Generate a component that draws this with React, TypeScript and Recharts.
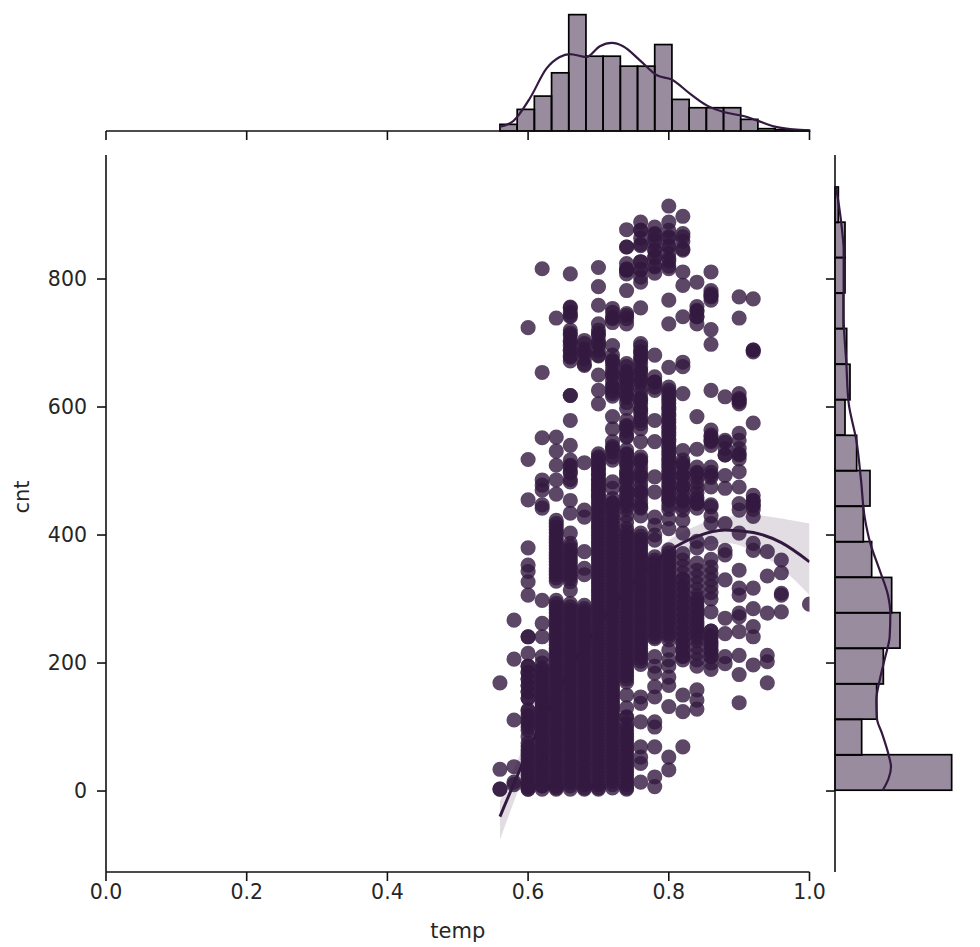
import {
  ComposedChart,
  Bar,
  Line,
  Area,
  Scatter,
  XAxis,
  YAxis,
  ZAxis,
} from "recharts";

const INK = "#331940";
const FONT = "'DejaVu Sans', sans-serif";

const tempTicks = [0, 0.2, 0.4, 0.6, 0.8, 1.0];
const cntTicks = [0, 200, 400, 600, 800];
const cntDomain = [-126.5, 993.75];

const tempColumns = [
  0.56, 0.58, 0.6, 0.62, 0.64, 0.66, 0.68, 0.7, 0.72, 0.74, 0.76, 0.78, 0.8,
  0.82, 0.84, 0.86, 0.88, 0.9, 0.92, 0.94, 0.96, 1.0,
];
const cntColumns = [
  [169, 34, 3, 3],
  [267, 206, 111, 38, 14, 10],
  [724, 518, 455, 380, 353, 343, 327, 306, 241, 241, 215, 195, 185, 175, 165, 155, 145, 127, 118, 108, 100, 70, 60, 50, 40, 30, 20, 10, 3, 3],
  [816, 654, 552, 447, 442, 298, 262, 241, 210, 189, 178, 168, 158, 148, 138, 128, 118, 108, 98, 88, 78, 68, 58, 48, 38, 28, 18, 8, 3],
  [739, 553, 531, 509, 486, 464, 423, 413, 403, 393, 383, 373, 363, 353, 343, 333, 298, 288, 278, 268, 258, 248, 238, 228, 218, 208, 198, 188, 178, 168, 158, 148, 138, 128, 118, 108, 98, 88, 78, 68, 58, 48, 38, 28, 18, 8, 3],
  [808, 755, 743, 715, 702, 689, 678, 618, 618, 579, 540, 509, 499, 483, 454, 434, 403, 387, 377, 367, 357, 347, 337, 327, 314, 293, 283, 273, 263, 253, 243, 233, 223, 213, 203, 193, 183, 173, 163, 153, 143, 133, 123, 113, 103, 93, 83, 73, 63, 53, 43, 33, 23, 13, 3],
  [704, 686, 665, 513, 439, 428, 374, 348, 338, 290, 280, 270, 260, 250, 240, 230, 220, 210, 200, 190, 180, 170, 160, 150, 140, 130, 120, 110, 100, 90, 80, 70, 60, 50, 40, 30, 20, 10, 3],
  [818, 788, 759, 730, 715, 699, 681, 650, 626, 605, 522, 512, 504, 495, 486, 478, 470, 460, 450, 440, 430, 420, 410, 400, 390, 380, 370, 360, 350, 340, 330, 320, 310, 300, 290, 280, 270, 260, 250, 240, 230, 220, 210, 200, 190, 180, 170, 160, 150, 140, 130, 120, 110, 100, 90, 80, 70, 60, 50, 40, 30, 20, 10, 3],
  [754, 738, 696, 671, 652, 631, 621, 585, 566, 535, 517, 483, 473, 457, 450, 445, 435, 425, 415, 405, 395, 385, 375, 365, 355, 345, 335, 325, 315, 305, 295, 285, 275, 265, 255, 245, 235, 225, 215, 205, 195, 185, 175, 165, 155, 145, 135, 125, 115, 105, 95, 85, 75, 65, 55, 45, 35, 25, 15, 5],
  [877, 850, 850, 814, 814, 782, 743, 668, 652, 642, 631, 618, 598, 569, 553, 527, 512, 496, 486, 470, 460, 450, 440, 430, 420, 410, 400, 390, 380, 370, 360, 350, 340, 330, 320, 310, 300, 290, 280, 270, 260, 250, 240, 230, 220, 210, 200, 190, 180, 170, 150, 130, 115, 100, 90, 80, 70, 60, 50, 40, 30, 20, 10, 3],
  [889, 876, 854, 827, 814, 795, 755, 699, 686, 676, 657, 642, 611, 595, 579, 546, 517, 493, 467, 444, 430, 403, 393, 383, 373, 363, 353, 343, 333, 323, 313, 303, 293, 283, 273, 263, 253, 243, 233, 223, 213, 203, 147, 137, 108, 69, 53, 43, 14],
  [871, 861, 845, 835, 819, 681, 639, 579, 546, 491, 467, 428, 415, 400, 392, 366, 356, 346, 336, 326, 316, 306, 296, 286, 276, 266, 256, 246, 238, 210, 195, 184, 163, 147, 108, 100, 69, 22, 7],
  [914, 889, 866, 850, 832, 816, 767, 730, 662, 631, 621, 611, 600, 590, 580, 570, 560, 550, 540, 530, 520, 510, 500, 490, 480, 470, 460, 454, 440, 425, 410, 377, 367, 357, 347, 337, 327, 317, 307, 297, 287, 277, 267, 257, 246, 236, 220, 205, 195, 178, 165, 132, 53, 33],
  [898, 866, 845, 811, 790, 741, 670, 663, 621, 532, 512, 493, 475, 454, 439, 423, 403, 371, 361, 351, 341, 331, 321, 311, 301, 291, 281, 271, 261, 251, 241, 231, 221, 211, 205, 150, 124, 69],
  [795, 751, 741, 730, 585, 534, 496, 454, 449, 390, 380, 356, 345, 335, 325, 315, 305, 295, 285, 275, 265, 255, 245, 235, 225, 215, 205, 195, 158, 142, 128],
  [811, 777, 772, 721, 698, 626, 553, 546, 493, 475, 447, 444, 430, 418, 387, 362, 350, 340, 330, 320, 310, 300, 280, 250, 240, 230, 220, 210, 200, 190],
  [616, 548, 525, 493, 473, 418, 376, 369, 330, 270, 246, 210, 199],
  [772, 739, 611, 608, 559, 548, 525, 499, 475, 449, 439, 403, 345, 317, 306, 278, 272, 249, 212, 182, 138],
  [769, 689, 689, 686, 575, 454, 447, 429, 387, 376, 317, 285, 257, 241, 197],
  [374, 336, 278, 212, 202, 169],
  [361, 341, 309, 306, 280],
  [292],
];
// second reading for the spots where several hours stack up and the dots turn solid
const stackedColumns = [
  [],
  [],
  [195, 185, 175, 165, 155, 145, 125, 115, 105, 95, 85, 75, 65, 55, 45, 35, 25, 15, 7],
  [486, 478, 470, 200, 192, 184, 176, 168, 160, 152, 144, 136, 128, 120, 112, 104, 96, 88, 80, 72, 64, 56, 48, 40, 32, 24, 16, 8],
  [418, 408, 398, 388, 378, 368, 358, 348, 338, 328, 293, 283, 273, 263, 253, 243, 233, 223, 213, 203, 193, 183, 173, 163, 153, 143, 133, 123, 113, 103, 93, 83, 73, 63, 53, 43, 33, 23, 13, 5],
  [756, 748, 741, 720, 712, 704, 696, 688, 680, 672, 517, 507, 497, 487, 382, 372, 362, 352, 342, 332, 288, 278, 268, 258, 248, 238, 228, 218, 208, 198, 188, 178, 168, 158, 148, 138, 128, 118, 108, 98, 88, 78, 68, 58, 48, 38, 28, 18, 8],
  [699, 691, 683, 675, 667, 285, 275, 265, 255, 245, 235, 225, 215, 205, 195, 185, 175, 165, 155, 145, 135, 125, 115, 105, 95, 85, 75, 65, 55, 45, 35, 25, 15, 5],
  [720, 712, 704, 696, 688, 680, 527, 519, 511, 503, 495, 487, 479, 471, 463, 455, 445, 435, 425, 415, 405, 395, 385, 375, 365, 355, 345, 335, 325, 315, 305, 295, 285, 275, 265, 255, 245, 235, 225, 215, 205, 195, 185, 175, 165, 155, 145, 135, 125, 115, 105, 95, 85, 75, 65, 55, 45, 35, 25, 15, 5],
  [748, 740, 732, 681, 673, 665, 657, 649, 641, 633, 625, 617, 546, 538, 530, 522, 450, 440, 430, 420, 410, 400, 390, 380, 370, 360, 350, 340, 330, 320, 310, 300, 290, 280, 270, 260, 250, 240, 230, 220, 210, 200, 190, 180, 170, 160, 150, 140, 130, 120, 110, 100, 90, 80, 70, 60, 50, 40, 30, 20, 10],
  [824, 816, 808, 746, 738, 730, 663, 655, 647, 639, 631, 623, 615, 607, 579, 571, 563, 555, 533, 525, 517, 509, 501, 493, 485, 477, 469, 461, 453, 445, 405, 395, 385, 375, 365, 355, 345, 335, 325, 315, 305, 295, 285, 275, 265, 255, 245, 235, 225, 215, 205, 195, 185, 175, 116, 105, 95, 85, 75, 65, 55, 45, 35, 25, 15, 5],
  [876, 864, 852, 827, 815, 803, 694, 686, 678, 670, 662, 654, 646, 638, 630, 622, 614, 606, 598, 590, 582, 574, 566, 522, 514, 506, 498, 490, 482, 474, 466, 458, 450, 442, 398, 388, 378, 368, 358, 348, 338, 328, 318, 308, 298, 288, 278, 268, 258, 248, 238, 228, 218, 208, 198],
  [881, 869, 857, 845, 833, 821, 809, 647, 639, 631, 626, 361, 351, 341, 331, 321, 311, 301, 291, 281, 271, 261, 251, 241],
  [876, 864, 852, 840, 828, 820, 626, 616, 606, 596, 586, 576, 566, 556, 546, 536, 526, 516, 506, 496, 486, 476, 466, 456, 446, 372, 362, 352, 342, 332, 322, 312, 302, 292, 282, 272, 262, 252, 242],
  [871, 859, 847, 517, 509, 501, 493, 485, 477, 469, 461, 453, 445, 330, 320, 310, 300, 290, 280, 270, 260, 250, 240, 230, 220, 210],
  [757, 749, 741, 506, 498, 490, 482, 474, 466, 458, 450, 442, 300, 290, 280, 270, 260, 250, 240],
  [782, 774, 767, 564, 556, 548, 540, 506, 498, 490, 250, 242, 234, 226, 218, 210],
  [545, 535, 525],
  [621, 613, 605, 535, 527, 519],
  [462, 454, 446, 440],
  [],
  [],
  [],
];
const scatterRows = tempColumns.flatMap((temp, i) =>
  [...cntColumns[i], ...stackedColumns[i]].map((cnt) => ({ temp, cnt }))
);

// regression curve and its confidence band
const fitTemps = [0.56, 0.6, 0.64, 0.68, 0.72, 0.76, 0.8, 0.84, 0.88, 0.92, 0.96, 1.0];
const fitCnt = [-40, 62, 151, 227, 289, 338, 375, 398, 408, 404, 388, 358];
const fitLow = [-76, 40, 135, 212, 275, 324, 358, 380, 388, 375, 348, 306];
const fitHigh = [-16, 84, 167, 242, 303, 352, 392, 415, 428, 431, 426, 418];
const fitRows = fitTemps.map((temp, i) => ({
  temp,
  fit: fitCnt[i],
  band: [fitLow[i], fitHigh[i]],
}));

// top marginal
const tempBins = [
  0.5722, 0.5967, 0.6211, 0.6456, 0.67, 0.6944, 0.7189, 0.7433, 0.7678, 0.7922,
  0.8167, 0.8411, 0.8656, 0.89, 0.9144, 0.9389, 0.9633, 0.9878,
];
const tempCounts = [4, 13, 21, 35, 70, 45, 45, 39, 39, 52, 19, 14, 14, 14, 7, 1.4, 0.8, 0.4];
const tempKdeX = [
  0.559, 0.579, 0.603, 0.626, 0.645, 0.659, 0.683, 0.702, 0.719, 0.735, 0.759,
  0.783, 0.804, 0.83, 0.854, 0.878, 0.906, 0.925, 0.949, 0.977, 1.0,
];
const tempKdeY = [
  2.4, 6, 20, 37.5, 44.5, 46.3, 44.5, 51, 53, 51, 42.5, 33.5, 31, 22.5, 15.4,
  11.4, 9, 6.4, 2.8, 1, 0.4,
];

// right marginal
const cntBins = [29, 84, 140, 195, 251, 306, 362, 417, 473, 528, 584, 639, 695, 750, 806, 861, 916];
const cntCounts = [70, 16, 25, 29, 39, 34, 22, 17, 21, 13, 6, 9, 7, 5, 6, 6, 2];
const cntKdeY = [
  1, 20, 38, 56, 90, 113, 142, 173, 210, 241, 277, 306, 345, 387, 428, 486, 548,
  606, 668, 741, 845, 877, 918, 943,
];
const cntKdeX = [
  28.6, 32.2, 33.6, 32.2, 28.2, 25.2, 24.8, 26.8, 30.2, 32.8, 33.2, 31.8, 26.8,
  21.2, 17.8, 15.6, 12.8, 8.2, 6.8, 5.2, 5.2, 4.2, 2.2, 0.6,
];

const topBars = tempBins.map((temp, i) => ({ temp, count: tempCounts[i] }));
const topKde = tempKdeX.map((temp, i) => ({ temp, density: tempKdeY[i] }));
const rightBars = cntBins.map((cnt, i) => ({ cnt, count: cntCounts[i] }));
const rightKde = cntKdeY.map((cnt, i) => ({ cnt, density: cntKdeX[i] }));

const tickStyle = { fontSize: 20.5, fill: "#262626", fontFamily: FONT };
const labelStyle = { fontSize: 21, fill: "#262626", fontFamily: FONT };
const spine = { stroke: "#111", strokeWidth: 1.6 };

// number axes give the bars no band, so the bin width is set here
const TEMP_BIN_PX = 17.2;
const CNT_BIN_PX = 35.5;

const histColumn = (p: any) => (
  <rect
    x={p.x + p.width / 2 - TEMP_BIN_PX / 2}
    y={p.y}
    width={TEMP_BIN_PX}
    height={p.height}
    fill={INK}
    fillOpacity={0.5}
    stroke="#000"
    strokeWidth={1.7}
  />
);

const histRow = (p: any) => (
  <rect
    x={p.x}
    y={p.y + p.height / 2 - CNT_BIN_PX / 2}
    width={p.width}
    height={CNT_BIN_PX}
    fill={INK}
    fillOpacity={0.5}
    stroke="#000"
    strokeWidth={1.7}
  />
);

export default function App() {
  return (
    <div style={{ position: "absolute", left: 0, top: 0, width: 980, height: 947, background: "#fff" }}>
      <div style={{ position: "absolute", left: 0, top: 0 }}>
        <ComposedChart
          width={980}
          height={947}
          data={fitRows}
          margin={{ top: 155, right: 170.5, bottom: 0, left: 0 }}
        >
          <XAxis
            dataKey="temp"
            type="number"
            domain={[0, 1]}
            ticks={tempTicks}
            allowDataOverflow
            tickFormatter={(v: number) => v.toFixed(1)}
            tick={tickStyle}
            axisLine={spine}
            tickLine={spine}
            tickSize={9}
            tickMargin={3}
            height={75}
            label={{ value: "temp", position: "insideBottom", offset: 9, style: labelStyle }}
          />
          <YAxis
            dataKey="cnt"
            type="number"
            domain={cntDomain}
            ticks={cntTicks}
            allowDataOverflow
            tick={tickStyle}
            axisLine={spine}
            tickLine={spine}
            tickSize={9}
            tickMargin={10}
            width={106}
            label={{ value: "cnt", angle: -90, position: "insideLeft", offset: 22, style: labelStyle }}
          />
          <ZAxis range={[180, 180]} />
          <Area
            dataKey="band"
            type="monotone"
            stroke="none"
            fill={INK}
            fillOpacity={0.15}
            isAnimationActive={false}
            dot={false}
            activeDot={false}
          />
          <Scatter
            data={scatterRows}
            dataKey="cnt"
            fill={INK}
            fillOpacity={0.8}
            isAnimationActive={false}
          />
          <Line
            dataKey="fit"
            type="monotone"
            stroke={INK}
            strokeWidth={3}
            dot={false}
            activeDot={false}
            isAnimationActive={false}
          />
        </ComposedChart>
      </div>

      <div style={{ position: "absolute", left: 0, top: 0 }}>
        <ComposedChart
          width={980}
          height={155}
          data={topBars}
          margin={{ top: 7, right: 170.5, bottom: 0, left: 106 }}
        >
          <XAxis
            dataKey="temp"
            type="number"
            domain={[0, 1]}
            ticks={tempTicks}
            tickFormatter={() => ""}
            axisLine={spine}
            tickLine={spine}
            tickSize={9}
            height={24}
          />
          <YAxis type="number" domain={[0, 74.6]} hide />
          <Bar dataKey="count" shape={histColumn} isAnimationActive={false} />
          <Line
            data={topKde}
            dataKey="density"
            type="monotone"
            stroke={INK}
            strokeWidth={2.2}
            dot={false}
            activeDot={false}
            isAnimationActive={false}
          />
        </ComposedChart>
      </div>

      <div style={{ position: "absolute", left: 810, top: 0 }}>
        <ComposedChart
          layout="vertical"
          width={170}
          height={947}
          data={rightBars}
          margin={{ top: 155, right: 21, bottom: 75, left: 0 }}
        >
          <XAxis type="number" domain={[0, 74.4]} hide />
          <YAxis
            dataKey="cnt"
            type="number"
            domain={cntDomain}
            ticks={cntTicks}
            reversed
            allowDataOverflow
            tickFormatter={() => ""}
            axisLine={spine}
            tickLine={spine}
            tickSize={9}
            width={25}
          />
          <Bar dataKey="count" shape={histRow} isAnimationActive={false} />
          <Line
            data={rightKde}
            dataKey="density"
            type="monotone"
            stroke={INK}
            strokeWidth={2.2}
            dot={false}
            activeDot={false}
            isAnimationActive={false}
          />
        </ComposedChart>
      </div>
    </div>
  );
}
